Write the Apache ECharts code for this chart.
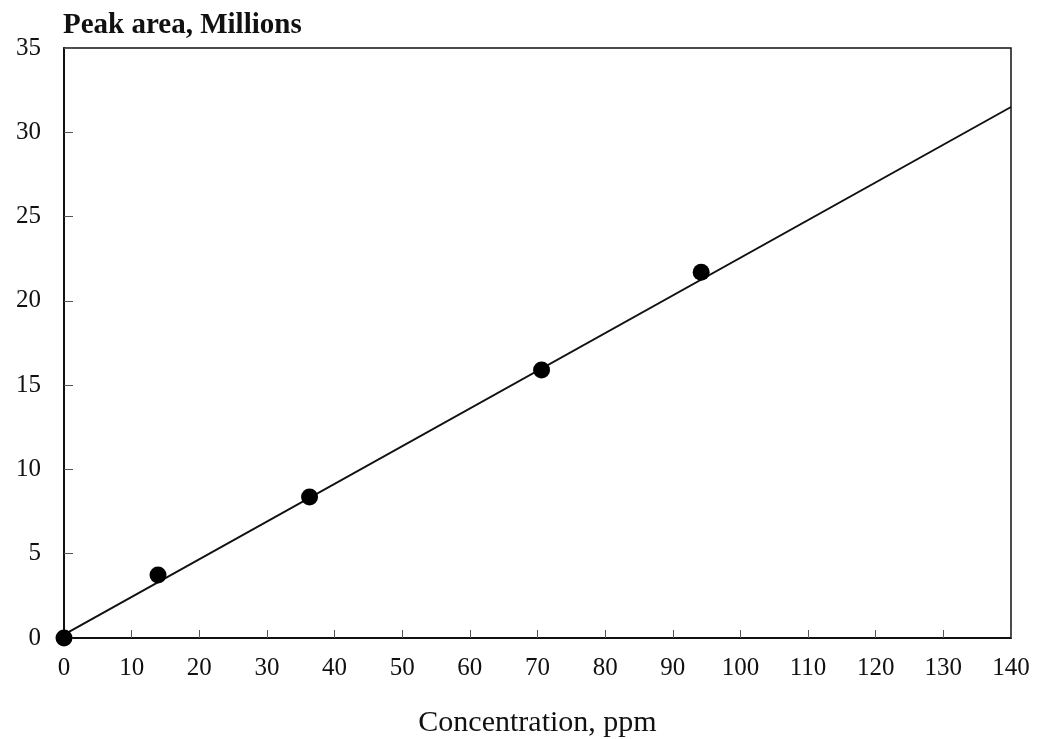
<!DOCTYPE html>
<html>
<head>
<meta charset="utf-8">
<script src="https://cdn.jsdelivr.net/npm/echarts@6/dist/echarts.min.js"></script>
<style>
html,body{margin:0;padding:0;background:#fff;}
#c{width:1039px;height:739px;}
</style>
</head>
<body>
<div id="c"></div>
<script>
// Data
const concentration = [0, 13.9, 36.3, 70.6, 94.2];
const peakArea = [0, 3.74, 8.37, 15.9, 21.7];
const fitX = [0, 140];
const fitY = [0.2, 31.5];
const xTicks = [0, 10, 20, 30, 40, 50, 60, 70, 80, 90, 100, 110, 120, 130, 140];
const yTicks = [0, 5, 10, 15, 20, 25, 30, 35];

const font = '"Liberation Serif", "DejaVu Serif", serif';
const chart = echarts.init(document.getElementById('c'), null, {renderer: 'canvas'});
chart.setOption({
  animation: false,
  backgroundColor: '#fff',
  grid: {left: 64, right: 28, top: 48, bottom: 101, outerBoundsMode: 'none', containLabel: false,
    show: true, borderColor: '#111', borderWidth: 1.5, backgroundColor: 'transparent'},
  title: {
    text: 'Peak area, Millions', left: 58, top: 6,
    textStyle: {fontFamily: font, fontSize: 29, fontWeight: 'bold', color: '#111'}
  },
  xAxis: {
    type: 'value', min: xTicks[0], max: xTicks[xTicks.length - 1], interval: 10,
    name: 'Concentration, ppm', nameLocation: 'middle', nameGap: 70,
    nameTextStyle: {fontFamily: font, fontSize: 30, color: '#111'},
    axisLine: {show: true, lineStyle: {color: '#111', width: 2}},
    axisTick: {show: true, inside: true, length: 8, lineStyle: {color: '#555', width: 1}},
    axisLabel: {fontFamily: font, fontSize: 25, color: '#111', margin: 18,
      formatter: v => xTicks.includes(v) ? String(v) : ''},
    splitLine: {show: false}
  },
  yAxis: {
    type: 'value', min: yTicks[0], max: yTicks[yTicks.length - 1], interval: 5,
    axisLine: {show: true, lineStyle: {color: '#111', width: 2}},
    axisTick: {show: true, inside: true, length: 9, lineStyle: {color: '#555', width: 1}},
    axisLabel: {fontFamily: font, fontSize: 25, color: '#111', margin: 23,
      formatter: v => yTicks.includes(v) ? String(v) : ''},
    splitLine: {show: false}
  },
  series: [
    {
      type: 'line',
      data: fitX.map((x, i) => [x, fitY[i]]),
      symbol: 'none',
      lineStyle: {color: '#111', width: 2},
      z: 2
    },
    {
      type: 'scatter',
      data: concentration.map((x, i) => [x, peakArea[i]]),
      symbol: 'circle', symbolSize: 17,
      itemStyle: {color: '#000', opacity: 1},
      z: 3
    }
  ]
});
</script>
</body>
</html>
